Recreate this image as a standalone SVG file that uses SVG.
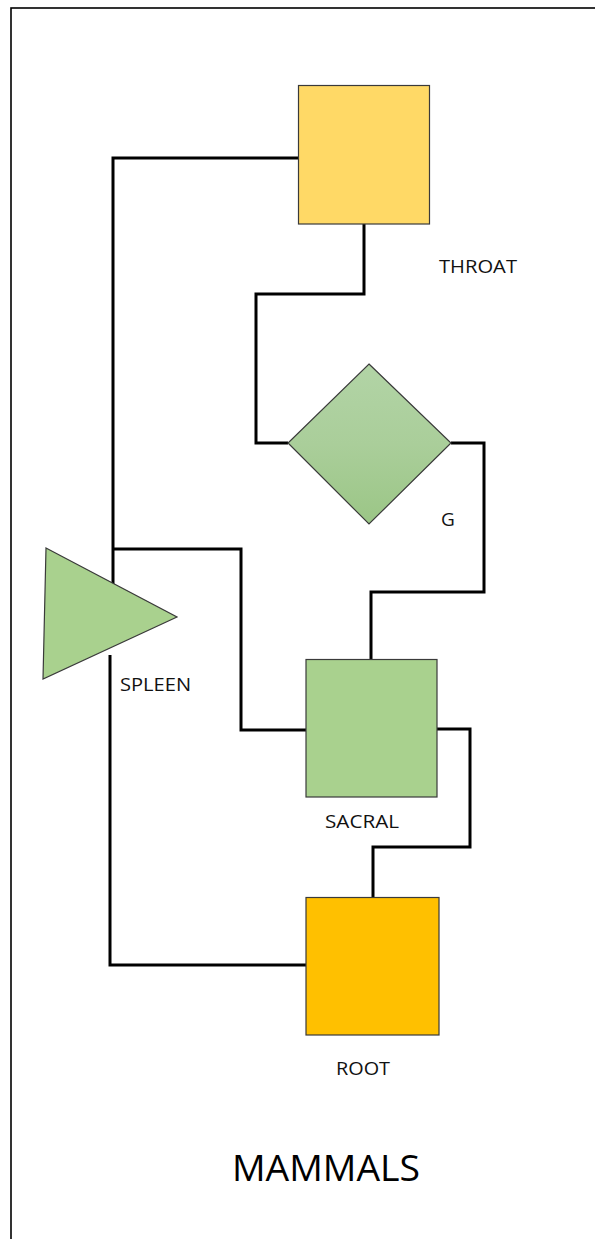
<svg xmlns="http://www.w3.org/2000/svg" width="595" height="1239" viewBox="0 0 595 1239">
  <style>
    .conn { fill: none; stroke: #000; stroke-width: 3; stroke-linejoin: miter; stroke-linecap: butt; }
    .shape { stroke: #3a3a3a; stroke-width: 1.2; }
    .lbl { font-family: "Open Sans", "Liberation Sans", sans-serif; font-size: 19px; fill: #111; }
    .title { font-family: "Open Sans", "Liberation Sans", sans-serif; font-size: 37px; fill: #000; }
  </style>
  <defs>
    <linearGradient id="gDiamond" x1="0" y1="0" x2="0" y2="1">
      <stop offset="0" stop-color="#B2D4A6"/>
      <stop offset="0.5" stop-color="#AACE9A"/>
      <stop offset="1" stop-color="#9BC686"/>
    </linearGradient>
  </defs>
  <rect x="0" y="0" width="595" height="1239" fill="#fff"/>
  <rect id="frame" x="11" y="8" width="600" height="1250" fill="none" stroke="#000" stroke-width="1.6"/>

  <g id="connectors">
    <polyline class="conn" points="298,158 113,158 113,585"/>
    <polyline class="conn" points="364,224 364,294 256,294 256,443 288,443"/>
    <polyline class="conn" points="451,443 484,443 484,592 371,592 371,659"/>
    <polyline class="conn" points="113,549 241,549 241,730 306,730"/>
    <polyline class="conn" points="437,729 470,729 470,847 373,847 373,897"/>
    <polyline class="conn" points="110,655 110,965 306,965"/>
  </g>

  <g id="throat">
    <rect class="shape" x="298.5" y="85.5" width="131" height="138.5" fill="#FFD966"/>
    <text class="lbl" x="439" y="273" textLength="78" lengthAdjust="spacingAndGlyphs">THROAT</text>
  </g>

  <g id="g">
    <polygon class="shape" points="369,364 451,443 369,524 288,443" fill="url(#gDiamond)"/>
    <text class="lbl" x="441" y="526">G</text>
  </g>

  <g id="spleen">
    <polygon class="shape" points="46,548 177,617 43,679" fill="#A9D18E"/>
    <text class="lbl" x="120" y="691" textLength="71" lengthAdjust="spacingAndGlyphs">SPLEEN</text>
  </g>

  <g id="sacral">
    <rect class="shape" x="306" y="659.5" width="131" height="137.5" fill="#A9D18E"/>
    <text class="lbl" x="325" y="828" textLength="74" lengthAdjust="spacingAndGlyphs">SACRAL</text>
  </g>

  <g id="root">
    <rect class="shape" x="306" y="897.5" width="133" height="137.5" fill="#FFC000"/>
    <text class="lbl" x="336" y="1075" textLength="54" lengthAdjust="spacingAndGlyphs">ROOT</text>
  </g>

  <text id="title" class="title" x="232" y="1181" textLength="188" lengthAdjust="spacingAndGlyphs">MAMMALS</text>
</svg>
